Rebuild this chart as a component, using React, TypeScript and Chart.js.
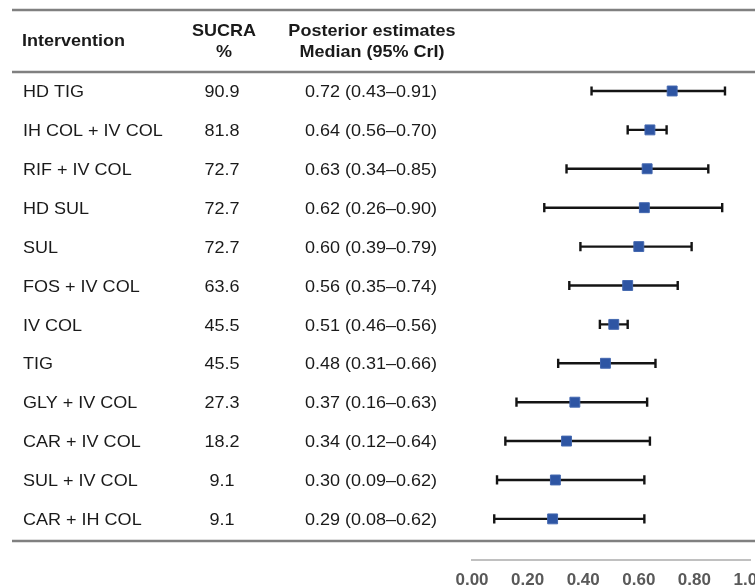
import { useEffect, useRef } from "react";
import { Chart, registerables } from "chart.js";

Chart.register(...registerables);

const interventions = [
  "HD TIG",
  "IH COL + IV COL",
  "RIF + IV COL",
  "HD SUL",
  "SUL",
  "FOS + IV COL",
  "IV COL",
  "TIG",
  "GLY + IV COL",
  "CAR + IV COL",
  "SUL + IV COL",
  "CAR + IH COL",
];
const sucra = [90.9, 81.8, 72.7, 72.7, 72.7, 63.6, 45.5, 45.5, 27.3, 18.2, 9.1, 9.1];
const medians = [0.72, 0.64, 0.63, 0.62, 0.6, 0.56, 0.51, 0.48, 0.37, 0.34, 0.3, 0.29];
const lower = [0.43, 0.56, 0.34, 0.26, 0.39, 0.35, 0.46, 0.31, 0.16, 0.12, 0.09, 0.08];
const upper = [0.91, 0.7, 0.85, 0.9, 0.79, 0.74, 0.56, 0.66, 0.63, 0.64, 0.62, 0.62];
const xTicks = [0, 0.2, 0.4, 0.6, 0.8, 1.0];
const headers = {
  intervention: "Intervention",
  sucra: ["SUCRA", "%"],
  posterior: ["Posterior estimates", "Median (95% CrI)"],
};

const FONT = '"Liberation Sans", Arial, sans-serif';
const SX = 1.06;
const TEXT = "#1a1a1a";

function drawText(
  ctx: CanvasRenderingContext2D,
  s: string,
  x: number,
  y: number,
  align: CanvasTextAlign,
  bold: boolean
) {
  ctx.save();
  ctx.translate(x, y + 1.5);
  ctx.scale(SX, 1);
  ctx.font = `${bold ? "bold " : ""}17px ${FONT}`;
  ctx.fillStyle = TEXT;
  ctx.textAlign = align;
  ctx.textBaseline = "middle";
  ctx.fillText(s, 0, 0);
  ctx.restore();
}

const errorBars = {
  id: "errorBars",
  beforeDatasetsDraw(chart: any) {
    const ctx = chart.ctx as CanvasRenderingContext2D;
    const xs = chart.scales.x;
    const ys = chart.scales.y;
    ctx.save();
    ctx.strokeStyle = "#141414";
    ctx.lineWidth = 2.4;
    for (let i = 0; i < medians.length; i++) {
      const y = ys.getPixelForValue(i);
      const x1 = xs.getPixelForValue(lower[i]);
      const x2 = xs.getPixelForValue(upper[i]);
      ctx.beginPath();
      ctx.moveTo(x1, y);
      ctx.lineTo(x2, y);
      ctx.moveTo(x1, y - 4.6);
      ctx.lineTo(x1, y + 4.6);
      ctx.moveTo(x2, y - 4.6);
      ctx.lineTo(x2, y + 4.6);
      ctx.stroke();
    }
    ctx.restore();
  },
};

const table = {
  id: "table",
  afterDraw(chart: any) {
    const ctx = chart.ctx as CanvasRenderingContext2D;
    const ys = chart.scales.y;
    ctx.save();
    ctx.strokeStyle = "#808080";
    ctx.lineWidth = 2.5;
    for (const ly of [10, 72, 541]) {
      ctx.beginPath();
      ctx.moveTo(12, ly);
      ctx.lineTo(780, ly);
      ctx.stroke();
    }
    ctx.restore();
    drawText(ctx, headers.intervention, 22, 40, "left", true);
    drawText(ctx, headers.sucra[0], 224, 30, "center", true);
    drawText(ctx, headers.sucra[1], 224, 51, "center", true);
    drawText(ctx, headers.posterior[0], 372, 30, "center", true);
    drawText(ctx, headers.posterior[1], 372, 51, "center", true);
    for (let i = 0; i < interventions.length; i++) {
      const y = ys.getPixelForValue(i);
      drawText(ctx, interventions[i], 23, y, "left", false);
      drawText(ctx, sucra[i].toFixed(1), 222, y, "center", false);
      drawText(
        ctx,
        `${medians[i].toFixed(2)} (${lower[i].toFixed(2)}\u2013${upper[i].toFixed(2)})`,
        371,
        y,
        "center",
        false
      );
    }
  },
};

export default function App() {
  const ref = useRef<HTMLCanvasElement>(null);
  useEffect(() => {
    if (!ref.current) return;
    const chart = new Chart(ref.current, {
      type: "scatter",
      data: {
        datasets: [
          {
            data: medians.map((m, i) => ({ x: m, y: i })),
            backgroundColor: "#2E55A3",
            borderColor: "#4468B0",
            borderWidth: 1,
            pointStyle: "rect",
            pointRadius: 7,
            pointHoverRadius: 7,
          },
        ],
      },
      options: {
        animation: false,
        responsive: false,
        devicePixelRatio: 1,
        layout: { padding: { left: 472, right: 30, top: 72, bottom: 0 } },
        plugins: { legend: { display: false }, tooltip: { enabled: false } },
        scales: {
          x: {
            type: "linear",
            min: 0,
            max: 1,
            afterBuildTicks: (s: any) => {
              s.ticks = xTicks.map((v) => ({ value: v }));
            },
            grid: { display: false, drawTicks: false },
            border: { display: true, color: "#c0c0c0", width: 2 },
            ticks: {
              padding: 11,
              color: "#595959",
              font: { family: FONT, size: 17, weight: "bold" },
              callback: (v: any) => Number(v).toFixed(2),
            },
          },
          y: {
            type: "linear",
            display: false,
            reverse: true,
            min: -0.488,
            max: 12.047,
          },
        },
      },
      plugins: [errorBars, table],
    });
    return () => chart.destroy();
  }, []);
  return (
    <div
      style={{
        position: "fixed",
        left: 0,
        top: 0,
        width: 755,
        height: 587,
        overflow: "hidden",
        background: "#fff",
      }}
    >
      <canvas ref={ref} width={780} height={602} style={{ width: 780, height: 602, display: "block" }} />
    </div>
  );
}
